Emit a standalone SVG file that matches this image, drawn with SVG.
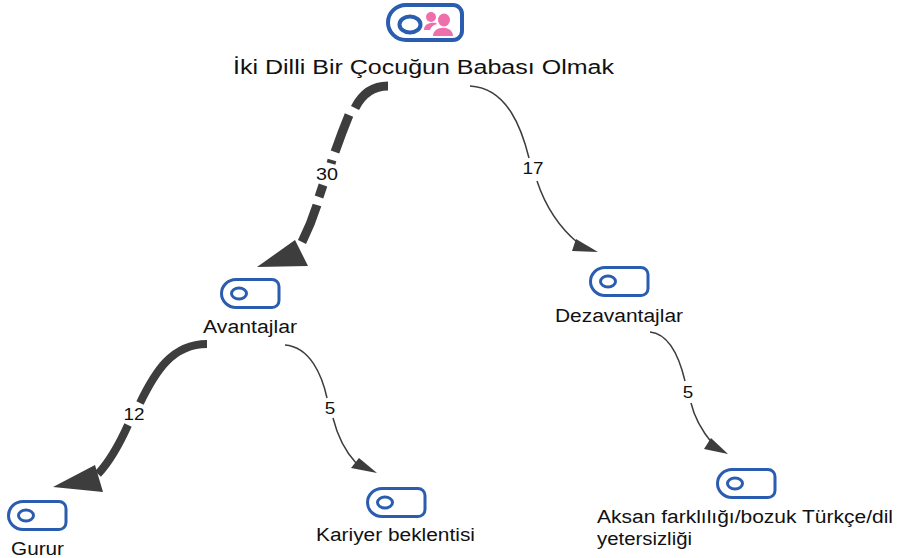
<svg xmlns="http://www.w3.org/2000/svg" width="897" height="558" viewBox="0 0 897 558">
<style>
text{font-family:"Liberation Sans",Arial,sans-serif;fill:#111}
.lbl{font-size:18px}
.num{font-size:17px;text-anchor:middle}
.box{fill:#fff;stroke:#2a5db0;stroke-width:3}
.dot{fill:none;stroke:#2a5db0;stroke-width:3}
.e{fill:none;stroke:#3d3d3d}
.h{fill:#3d3d3d}
</style>
<defs>
<g id="icon"><path class="box" d="M16,1.500H52a7,7 0 0 1 7,7V22.500a7,7 0 0 1-7,7H16A14.500,14 0 0 1 16,1.500z"/><ellipse class="dot" cx="19" cy="15.500" rx="7.500" ry="5.500"/></g>
</defs>
<g id="connectors">
<g id="edge-root-avantajlar">
<path class="e" stroke-width="9" d="M388,86C373,86 362,94 355,108"/>
<path class="e" stroke-width="9" d="M349,115Q342,132 335,152"/>
<path class="e" stroke-width="9" d="M332,160L331,163.500"/>
<path class="e" stroke-width="9" d="M323,185L319,197"/>
<path class="e" stroke-width="9" d="M317,205Q311,224 302,242"/>
<polygon class="h" points="295,240 308,266 257,267"/>
<text class="num" x="327" y="180" textLength="22" lengthAdjust="spacingAndGlyphs">30</text>
</g>
<g id="edge-root-dezavantajlar">
<path class="e" stroke-width="1.500" d="M470,86C508,88 522,130 529,158"/>
<path class="e" stroke-width="1.500" d="M537,181C546,208 560,228 578,243"/>
<polygon class="h" points="576,239 598,252 572,251"/>
<text class="num" x="533" y="174" textLength="21" lengthAdjust="spacingAndGlyphs">17</text>
</g>
<g id="edge-avantajlar-gurur">
<path class="e" stroke-width="8" d="M207,344C172,344 155,372 140,403"/>
<path class="e" stroke-width="8" d="M128,425C119,445 111,460 98,474"/>
<polygon class="h" points="95,465 103,492 53,487"/>
<text class="num" x="134" y="420" textLength="21" lengthAdjust="spacingAndGlyphs">12</text>
</g>
<g id="edge-avantajlar-kariyer">
<path class="e" stroke-width="1.500" d="M285,345C310,347 322,375 327,398"/>
<path class="e" stroke-width="1.500" d="M333,418C338,438 345,451 356,463"/>
<polygon class="h" points="359,458 377,473 351,468"/>
<text class="num" x="330" y="414" textLength="10.500" lengthAdjust="spacingAndGlyphs">5</text>
</g>
<g id="edge-dezavantajlar-aksan">
<path class="e" stroke-width="1.500" d="M650,332C670,334 680,360 685,381"/>
<path class="e" stroke-width="1.500" d="M691,403C695,420 703,432 712,443"/>
<polygon class="h" points="711,438 728,454 704,449"/>
<text class="num" x="688" y="398" textLength="10.500" lengthAdjust="spacingAndGlyphs">5</text>
</g>
</g>
<g id="node-root">
<path class="box" style="stroke-width:4" d="M406,5H453a9,9 0 0 1 9,9V31a9,9 0 0 1-9,9H406A18,17.500 0 0 1 406,5z"/>
<ellipse class="dot" style="stroke-width:4" cx="410" cy="24.500" rx="10.500" ry="8"/>
<ellipse cx="444" cy="20" rx="6" ry="6.500" fill="#ee6fab"/><path d="M433,36c0-11 20-11 20,0z" fill="#ee6fab"/>
<circle cx="431" cy="17" r="5" fill="#ee6fab"/><path d="M424,30c0-6 6-8 12-7l1,1c-4,1-6,3-7,6z" fill="#ee6fab"/>
<text x="233" y="74" font-size="20" textLength="381" lengthAdjust="spacingAndGlyphs">İki Dilli Bir Çocuğun Babası Olmak</text>
</g>
<g id="node-avantajlar"><use href="#icon" x="220" y="278"/><text class="lbl" x="203" y="333" textLength="94" lengthAdjust="spacingAndGlyphs">Avantajlar</text></g>
<g id="node-dezavantajlar"><use href="#icon" x="589" y="266"/><text class="lbl" x="555" y="322" textLength="128" lengthAdjust="spacingAndGlyphs">Dezavantajlar</text></g>
<g id="node-gurur"><use href="#icon" x="7" y="500"/><text class="lbl" x="11" y="555" textLength="53" lengthAdjust="spacingAndGlyphs">Gurur</text></g>
<g id="node-kariyer"><use href="#icon" x="366" y="487"/><text class="lbl" x="316" y="541" textLength="159" lengthAdjust="spacingAndGlyphs">Kariyer beklentisi</text></g>
<g id="node-aksan"><use href="#icon" x="716" y="468"/><text class="lbl" x="597" y="523" textLength="296" lengthAdjust="spacingAndGlyphs">Aksan farklılığı/bozuk Türkçe/dil</text><text class="lbl" x="597" y="545" textLength="95" lengthAdjust="spacingAndGlyphs">yetersizliği</text></g>
</svg>
